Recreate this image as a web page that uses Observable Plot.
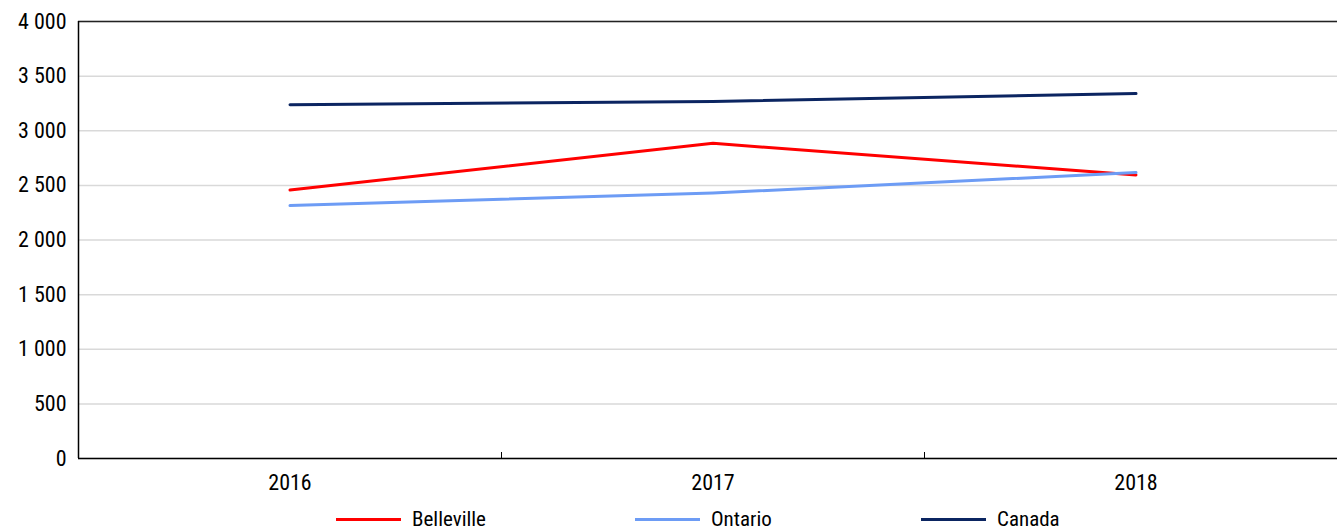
<!DOCTYPE html>
<html>
<head>
<meta charset="utf-8">
<script src="https://cdn.jsdelivr.net/npm/d3@7"></script>
<script src="https://cdn.jsdelivr.net/npm/@observablehq/plot@0.6"></script>
<style>
  html, body { margin: 0; padding: 0; background: #fff; }
  body { width: 1337px; height: 529px; overflow: hidden; position: relative; font-family: "Roboto Condensed", Roboto, sans-serif; }
  #legend { position: absolute; left: 0; top: 507px; width: 1337px; height: 24px; }
  .item { position: absolute; top: 0; display: flex; align-items: center; height: 24px; font-size: 21px; color: #000; }
  .swatch { width: 65px; height: 3px; margin-right: 11px; }
</style>
</head>
<body>
<div id="chart"></div>
<div id="legend"></div>
<script>
const years = [2016, 2017, 2018];
const seriesNames = ["Belleville", "Ontario", "Canada"];
const belleville = [2458, 2885, 2595];
const ontario = [2315, 2430, 2617];
const canada = [3238, 3268, 3340];
const colors = ["#ff0000", "#6d9cf5", "#0b2561"];
const yTicks = [0, 500, 1000, 1500, 2000, 2500, 3000, 3500, 4000];

const values = [belleville, ontario, canada];
const rows = [];
seriesNames.forEach((s, i) => years.forEach((y, j) => rows.push({series: s, year: y, value: values[i][j]})));

const fmt = d => d3.format(",")(d).replace(/,/g, " ");

const chart = Plot.plot({
  width: 1337,
  height: 500,
  marginTop: 21,
  marginBottom: 42,
  marginLeft: 78,
  marginRight: 0,
  style: {fontFamily: '"Roboto Condensed", Roboto, sans-serif', fontSize: "22px", color: "#000", background: "#fff"},
  x: {domain: [2015.5, 2018.5], range: [78, 1347]},
  y: {domain: [0, 4000]},
  color: {domain: seriesNames, range: colors},
  marks: [
    Plot.gridY(yTicks, {stroke: "#d9d9d9", strokeOpacity: 1, strokeWidth: 1.5}),
    Plot.axisY(yTicks, {tickSize: 0, tickPadding: 12, tickFormat: fmt, label: null, fontSize: 22}),
    Plot.axisX(years, {tickSize: 0, tickPadding: 16, tickFormat: d => String(d), label: null, fontSize: 22}),
    Plot.axisX([2016.5, 2017.5], {tickSize: -6, tickFormat: () => "", label: null, stroke: "#000"}),
    Plot.ruleY([4000], {stroke: "#222", strokeWidth: 1.5}),
    Plot.ruleY([0], {stroke: "#000", strokeWidth: 1.5}),
    Plot.ruleX([2015.5], {stroke: "#000", strokeWidth: 1.5}),
    Plot.line(rows, {x: "year", y: "value", z: "series", stroke: "series", strokeWidth: 3})
  ]
});
document.getElementById("chart").appendChild(chart);

const legend = document.getElementById("legend");
const lefts = [336, 635, 921];
seriesNames.forEach((s, i) => {
  const item = document.createElement("div");
  item.className = "item";
  item.style.left = lefts[i] + "px";
  const sw = document.createElement("div");
  sw.className = "swatch";
  sw.style.background = colors[i];
  const label = document.createElement("span");
  label.textContent = s;
  item.appendChild(sw);
  item.appendChild(label);
  legend.appendChild(item);
});
</script>
</body>
</html>
